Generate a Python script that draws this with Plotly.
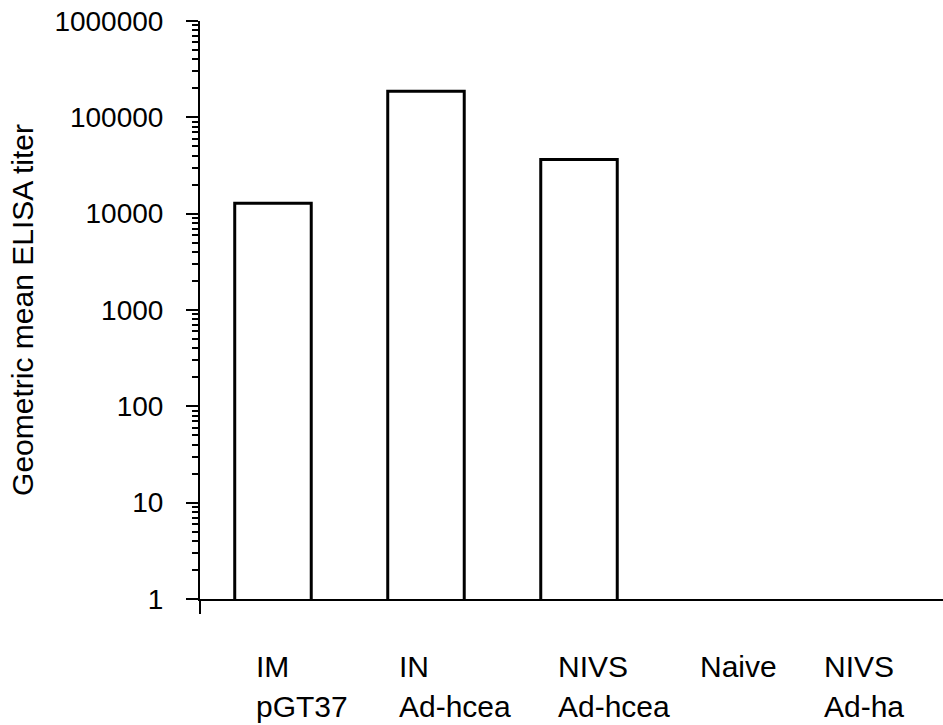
import plotly.graph_objects as go

# ---- data ----
group_line1 = ["IM", "IN", "NIVS", "Naive", "NIVS"]
group_line2 = ["pGT37", "Ad-hcea", "Ad-hcea", "", "Ad-ha"]
titers = [12800, 186000, 36600, None, None]  # Naive / NIVS Ad-ha: no detectable titer
y_tickvals = [1, 10, 100, 1000, 10000, 100000, 1000000]
y_ticktext = ["1", "10", "100", "1000", "10000", "100000", "1000000"]
minor_vals = [m * 10 ** k for k in range(6) for m in range(2, 10)]

# ---- styling / layout constants ----
FONT = "Arial, Liberation Sans, sans-serif"
FS = 28
FS_LAB = 30
label_xshift = [-18, -28, -22, -33, -62]

x_idx = list(range(len(group_line1)))

fig = go.Figure()
fig.add_trace(go.Bar(
    x=x_idx, y=titers, width=0.5,
    marker=dict(color="white", line=dict(color="black", width=3)),
    showlegend=False, hoverinfo="skip",
))

annotations = []
for i, (l1, l2, dx) in enumerate(zip(group_line1, group_line2, label_xshift)):
    for txt, ys in ((l1, -50), (l2, -90)):
        if not txt:
            continue
        annotations.append(dict(
            x=i, xref="x", y=0, yref="paper", text=txt, showarrow=False,
            xanchor="left", yanchor="top", align="left", xshift=dx, yshift=ys,
            borderpad=0,
            font=dict(family=FONT, size=FS_LAB, color="black"),
        ))

fig.update_layout(
    width=943, height=725,
    margin=dict(l=200, r=0, t=21, b=126, pad=0),
    paper_bgcolor="white", plot_bgcolor="white",
    font=dict(family=FONT, size=FS, color="black"),
    xaxis=dict(
        range=[-0.477, 4.379], showgrid=False, zeroline=False,
        showline=True, linecolor="black", linewidth=2,
        showticklabels=False, ticks="",
    ),
    yaxis=dict(
        type="log", range=[0, 6], showgrid=False, zeroline=False,
        showline=True, linecolor="black", linewidth=2,
        tickvals=y_tickvals, ticktext=y_ticktext,
        ticks="outside", ticklen=12, tickwidth=2, tickcolor="black",
        ticklabelstandoff=17,
        minor=dict(tickvals=minor_vals, ticks="outside", ticklen=6,
                   tickwidth=1.5, tickcolor="black", showgrid=False),
        title=dict(text="Geometric mean ELISA titer", font=dict(size=30), standoff=12),
    ),
    annotations=annotations,
    shapes=[dict(type="line", xref="paper", x0=0, x1=0, yref="paper",
                 ysizemode="pixel", yanchor=0, y0=0, y1=-15,
                 line=dict(color="black", width=2))],
)

fig.write_html("out.html")
